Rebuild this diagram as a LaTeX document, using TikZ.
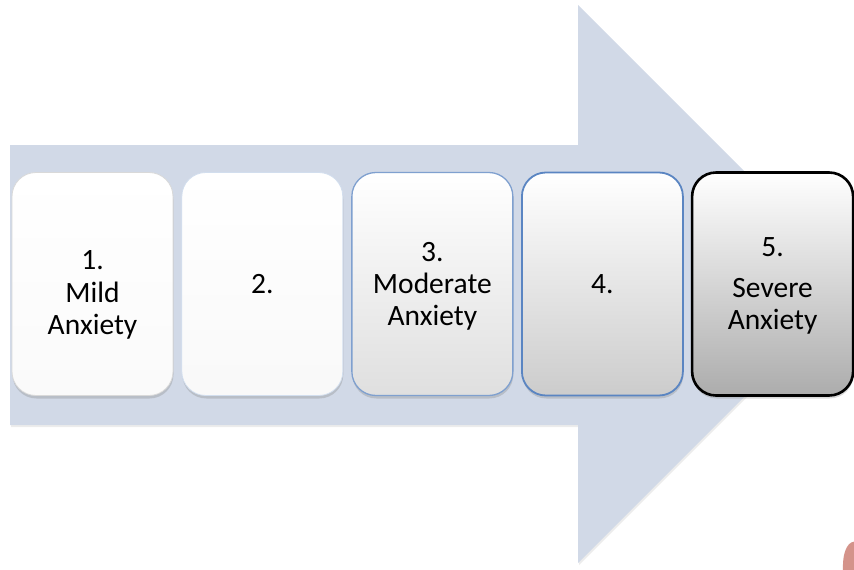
\documentclass[tikz,border=0pt]{standalone}
\usepackage{fontspec}
\setmainfont{Carlito}
\usepackage{tikz}
\usetikzlibrary{positioning,shadows}

\definecolor{arrowblue}{HTML}{D1D9E7}
\definecolor{edgeblue}{HTML}{7FA0CF}
\definecolor{deepblue}{HTML}{5A85C2}
\definecolor{skin}{HTML}{D4938A}

\begin{document}
\begin{tikzpicture}[x=1pt,y=-1pt,
    stage/.style={rounded corners=24pt,minimum width=161pt,minimum height=223pt,
      drop shadow={opacity=0.3,shadow xshift=0.5pt,shadow yshift=-3pt}},
    stagetext/.style={align=center,font=\fontsize{29.5}{32}\selectfont}]
  \useasboundingbox (0,0) rectangle (854,570);
  % big arrow behind the stages
  \fill[arrowblue,drop shadow={opacity=0.15,shadow xshift=1pt,shadow yshift=-2pt}]
    (10,145) -- (578,145) -- (578,5) -- (857,284) -- (578,563) -- (578,425) -- (10,425) -- cycle;

  \node[stage,draw=gray!30,line width=0.8pt,top color=white,bottom color=gray!4] (s1) at (92.5,284) {};
  \node[stage,draw=edgeblue!35,line width=0.8pt,top color=white,bottom color=gray!5,
    right=8pt of s1] (s2) {};
  \node[stage,draw=edgeblue,line width=1.3pt,top color=white,middle color=gray!8,bottom color=gray!25,
    right=8pt of s2] (s3) {};
  \node[stage,draw=deepblue,line width=1.8pt,top color=white,middle color=gray!12,bottom color=gray!40,
    right=7.5pt of s3] (s4) {};
  \node[stage,draw=black,line width=2.6pt,top color=white,middle color=gray!22,bottom color=gray!65,
    right=7pt of s4] (s5) {};

  \node[stagetext] (t1) at ([yshift=-11pt]s1.center) {1.\\[1pt]Mild\\Anxiety};
  \node[stagetext] (t2) at (s2.center) {2.};
  \node[stagetext] (t3) at ([yshift=-2pt]s3.center) {3.\\Moderate\\Anxiety};
  \node[stagetext] (t4) at (s4.center) {4.};
  \node[stagetext] (t5) at ([yshift=-2pt]s5.center) {5.\\[9pt]Severe\\Anxiety};

  % bit of a picture in the corner
  \fill[skin] (843,571) .. controls (842,548) and (850,540) .. (856,542) -- (856,571) -- cycle;
\end{tikzpicture}
\end{document}
